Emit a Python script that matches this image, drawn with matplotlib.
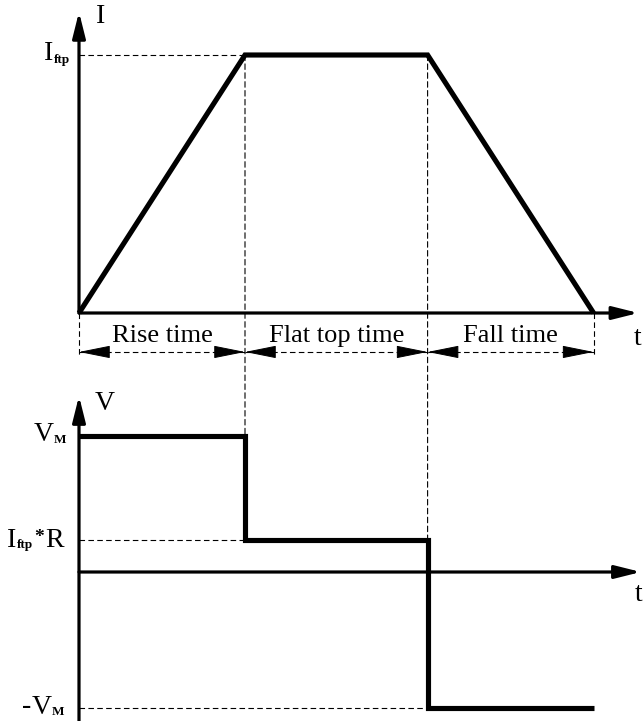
import numpy as np
import matplotlib
matplotlib.use("Agg")
import matplotlib.pyplot as plt
from matplotlib.patches import ConnectionPatch

plt.rcParams['font.family'] = ['Liberation Serif', 'DejaVu Serif']

# ---- data ----
phase_labels = ['Rise time', 'Flat top time', 'Fall time']
phase_durations = [1.0, 1.1, 1.0]
current_at_edges = [0.0, 1.0, 1.0, 0.0]          # I at phase boundaries (units of I_ftp)
voltage_levels = [1.0, 0.234, -1.0]               # V during each phase (units of V_M)
axis_names = ['I', 'V']
time_name = 't'

t_edges = np.concatenate([[0.0], np.cumsum(phase_durations)])

W, H = 643, 721
PX = 166.0                       # pixels per time unit
fig = plt.figure(figsize=(W / 100, H / 100), dpi=100)
xl = (-79 / PX, (W - 79) / PX)
axT = fig.add_axes([0, (H - 380) / H, 1, 380 / H])
axT.set_xlim(*xl)
axT.set_ylim(-(380 - 313) / 258, 313 / 258)
axB = fig.add_axes([0, 0, 1, 341 / H])
axB.set_xlim(*xl)
axB.set_ylim((572 - 721) / 136, (572 - 380) / 136)
for a in (axT, axB):
    a.axis('off')

thick = 3.7
axis_lw = 2.3
dash = dict(color='black', lw=0.8, ls=(0, (5, 3)))
arrow_kw = dict(arrowstyle='-|>,head_length=1.2,head_width=0.3', color='black',
                lw=axis_lw, mutation_scale=13, shrinkA=0, shrinkB=0)


def axis_arrow(ax, start, end):
    ax.annotate('', xy=end, xytext=start, arrowprops=arrow_kw)


def sub_label(ax, y, pieces):
    """pieces: (text, left offset px from y-axis, vertical offset px, fontsize, weight)"""
    for txt, dx, dy, fs, wt in pieces:
        ax.annotate(txt, xy=(0, y), xytext=(dx * 0.72, -dy * 0.72),
                    textcoords='offset points', fontsize=fs, fontweight=wt,
                    ha='left', va='center')


# ---- top: current ----
axis_arrow(axT, (0, 0), (3.37, 0))
axis_arrow(axT, (0, 0), (0, 1.167))
axT.plot(t_edges, current_at_edges, color='black', lw=thick, solid_joinstyle='miter',
         solid_capstyle='butt', zorder=5)
axT.plot([0, t_edges[1]], [1, 1], **dash)
axT.annotate(axis_names[0], xy=(0, 1.167), xytext=(17 * 0.72, -5 * 0.72),
             textcoords='offset points', fontsize=20, ha='left', va='center')
axT.text(3.345, -0.097, time_name, fontsize=20, ha='left', va='center')
sub_label(axT, 1.0, [('I', -35, -1, 20, 'normal'), ('ftp', -25, 5, 9.5, 'bold')])

# dimension lines
ydim = -0.151
for x in (t_edges[0], t_edges[-1]):
    axT.plot([x, x], [0, ydim - 0.01], **dash)
head = dict(arrowstyle='-|>,head_length=1.0,head_width=0.2', color='black',
            lw=0.7, mutation_scale=20, shrinkA=0, shrinkB=0)
for i, lab in enumerate(phase_labels):
    x0, x1 = t_edges[i], t_edges[i + 1]
    axT.plot([x0, x1], [ydim, ydim], **dash)
    hl = 0.12
    axT.annotate('', xy=(x0, ydim), xytext=(x0 + hl, ydim), arrowprops=head)
    axT.annotate('', xy=(x1, ydim), xytext=(x1 - hl, ydim), arrowprops=head)
    axT.text((x0 + x1) / 2, -0.09, lab, fontsize=19,
             ha='center', va='center')

# ---- bottom: voltage ----
axis_arrow(axB, (0, 0), (3.385, 0))
axis_arrow(axB, (0, -1.11), (0, 1.294))
vx, vy = [], []
for i, v in enumerate(voltage_levels):
    vx += [t_edges[i], t_edges[i + 1]]
    vy += [v, v]
axB.plot(vx, vy, color='black', lw=thick, solid_joinstyle='miter',
         solid_capstyle='butt', zorder=5)
axB.plot([0, t_edges[1]], [voltage_levels[1], voltage_levels[1]], **dash)
axB.plot([0, t_edges[2]], [voltage_levels[2], voltage_levels[2]], **dash)
axB.annotate(axis_names[1], xy=(0, 1.294), xytext=(16 * 0.72, -7 * 0.72),
             textcoords='offset points', fontsize=20,
             ha='left', va='center')
axB.text(3.35, -0.168, time_name, fontsize=20, ha='left', va='center')
sub_label(axB, voltage_levels[0], [('V', -45, -2, 20, 'normal'), ('M', -25, 4, 9.5, 'bold')])
sub_label(axB, voltage_levels[1], [('I', -72, 0, 20, 'normal'), ('ftp', -62, 5, 9.5, 'bold'),
                                   ('*', -45, -3, 14, 'bold'), ('R', -34, 0, 20, 'normal')])
sub_label(axB, voltage_levels[2], [('-', -57, -1, 20, 'normal'), ('V', -47, 0, 20, 'normal'),
                                   ('M', -27, 4, 9.5, 'bold')])

# connecting dashed verticals between panels
for k in (1, 2):
    con = ConnectionPatch(xyA=(t_edges[k], current_at_edges[k]), coordsA=axT.transData,
                          xyB=(t_edges[k], voltage_levels[k]), coordsB=axB.transData,
                          **dash)
    fig.add_artist(con)

fig.savefig('out.png', dpi=100)
